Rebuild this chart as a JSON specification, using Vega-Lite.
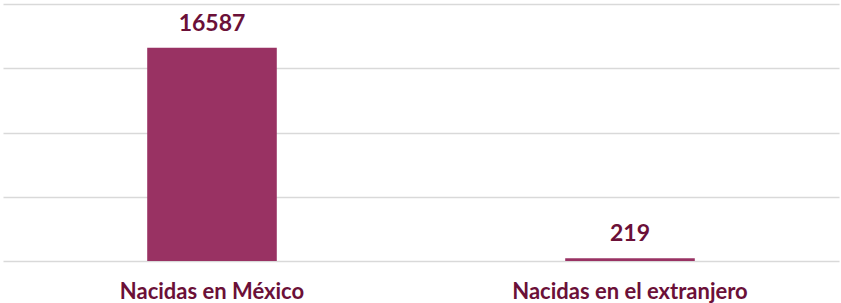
{
  "$schema": "https://vega.github.io/schema/vega-lite/v6.json",
  "width": 836,
  "height": 257,
  "autosize": {"type": "none"},
  "padding": {"left": 3, "top": 4, "right": 2, "bottom": 42},
  "background": "white",
  "config": {"view": {"stroke": null}},
  "data": {"values": [
    {"categoria": "Nacidas en México", "valor": 16587},
    {"categoria": "Nacidas en el extranjero", "valor": 219}
  ]},
  "encoding": {
    "x": {"field": "categoria", "type": "nominal", "sort": null,
      "scale": {"paddingInner": 0.69, "paddingOuter": 0.345},
      "axis": {"title": null, "labelAngle": 0, "domain": false, "ticks": false,
        "labelFont": "Lato", "labelFontWeight": "bold", "labelFontSize": 22,
        "labelColor": "#6B1038", "labelPadding": 20, "labelLimit": 0}},
    "y": {"field": "valor", "type": "quantitative",
      "scale": {"domain": [0, 20000]},
      "axis": {"title": null, "labels": false, "ticks": false, "domain": false,
        "values": [0, 5000, 10000, 15000, 20000],
        "gridColor": "#D9D9D9", "gridWidth": 1.5}}
  },
  "layer": [
    {"mark": {"type": "bar", "color": "#993263"}},
    {"mark": {"type": "text", "font": "Lato", "fontWeight": "bold", "fontSize": 23,
      "color": "#6B1038", "baseline": "alphabetic", "dy": -17},
     "encoding": {"text": {"field": "valor", "type": "quantitative", "format": "d"}}}
  ]
}
